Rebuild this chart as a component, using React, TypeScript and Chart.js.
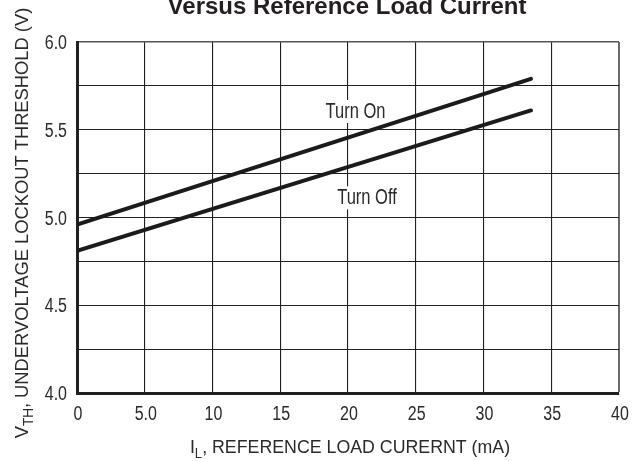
import React, { useEffect, useRef } from "react";
import { Chart, registerables } from "chart.js";

Chart.register(...registerables);

const xTickValues = [0, 5, 10, 15, 20, 25, 30, 35, 40];
const xTickLabels = ["0", "5.0", "10", "15", "20", "25", "30", "35", "40"];
const yTickValues = [4, 4.5, 5, 5.5, 6];
const yTickLabels = ["4.0", "4.5", "5.0", "5.5", "6.0"];
const turnOnX = [0, 33.5];
const turnOnY = [4.96, 5.79];
const turnOffX = [0, 33.5];
const turnOffY = [4.81, 5.61];
const seriesNames = ["Turn On", "Turn Off"];
const seriesLabelX = [20.55, 21.4];
const seriesLabelY = [5.567, 5.075];
const titleText = "Versus Reference Load Current";
const xTitleParts = [{ t: "I" }, { t: "L", sub: true }, { t: ", REFERENCE LOAD CURERNT (mA)" }];
const yTitleParts = [{ t: "V" }, { t: "TH", sub: true }, { t: ", UNDERVOLTAGE LOCKOUT THRESHOLD (V)" }];

const FAMILY = '"Liberation Sans", Arial, Helvetica, sans-serif';
const INK = "#231f20";
const TEXT = "#2a2a2a";
const COND = 0.8;

function condText(ctx: any, text: string, x: number, y: number, size: number, sx: number, align: string, bold = false) {
  ctx.save();
  ctx.font = (bold ? "bold " : "") + size + "px " + FAMILY;
  const w = ctx.measureText(text).width * sx;
  let left = x;
  if (align === "center") left = x - w / 2;
  else if (align === "right") left = x - w;
  ctx.translate(left, y);
  ctx.scale(sx, 1);
  ctx.textAlign = "left";
  ctx.textBaseline = "alphabetic";
  ctx.fillText(text, 0, 0);
  ctx.restore();
  return w;
}

function richWidth(ctx: any, parts: any[], size: number, sx: number) {
  let w = 0;
  for (const p of parts) {
    ctx.font = Math.round(p.sub ? size * 0.72 : size) + "px " + FAMILY;
    w += ctx.measureText(p.t).width * sx;
  }
  return w;
}

function drawRich(ctx: any, parts: any[], cx: number, base: number, size: number, sx: number, subDrop: number) {
  const w = richWidth(ctx, parts, size, sx);
  let x = cx - w / 2;
  for (const p of parts) {
    const s = Math.round(p.sub ? size * 0.72 : size);
    x += condText(ctx, p.t, x, p.sub ? base + subDrop : base, s, sx, "left");
  }
}

const labelPlugin = {
  id: "seriesLabels",
  beforeDatasetsDraw(chart: any) {
    const ctx = chart.ctx;
    const xs = chart.scales.x;
    const ys = chart.scales.y;
    ctx.save();
    seriesNames.forEach((name, i) => {
      const cx = xs.getPixelForValue(seriesLabelX[i]);
      const by = ys.getPixelForValue(seriesLabelY[i]);
      ctx.font = "22px " + FAMILY;
      const w = ctx.measureText(name).width * 0.75;
      ctx.fillStyle = "#ffffff";
      ctx.fillRect(cx - w / 2 - 3, by - 18, w + 6, 23);
      ctx.fillStyle = TEXT;
      condText(ctx, name, cx, by, 22, 0.75, "center");
    });
    ctx.restore();
  },
};

const textPlugin = {
  id: "texts",
  afterDraw(chart: any) {
    const ctx = chart.ctx;
    const xs = chart.scales.x;
    const ys = chart.scales.y;
    const ca = chart.chartArea;
    ctx.save();
    ctx.fillStyle = INK;
    condText(ctx, titleText, (ca.left + ca.right) / 2 - 1, 14, 24, 1, "center", true);
    ctx.fillStyle = TEXT;
    yTickValues.forEach((v, i) => {
      const py = ys.getPixelForValue(v);
      condText(ctx, yTickLabels[i], ca.left - 10, py + 7, 20, COND, "right");
    });
    xTickValues.forEach((v, i) => {
      const px = xs.getPixelForValue(v);
      condText(ctx, xTickLabels[i], px + 1, ca.bottom + 27, 20, COND, "center");
    });
    drawRich(ctx, xTitleParts, (ca.left + ca.right) / 2 + 2, 453, 19, 0.935, 5);
    ctx.save();
    ctx.translate(28, 223);
    ctx.rotate(-Math.PI / 2);
    drawRich(ctx, yTitleParts, 0, 0, 19, 0.965, 5);
    ctx.restore();
    ctx.restore();
  },
};

export default function App() {
  const ref = useRef<HTMLCanvasElement>(null);
  useEffect(() => {
    document.body.style.margin = "0";
    const chart = new Chart(ref.current!, {
      type: "scatter",
      data: {
        datasets: [
          {
            label: seriesNames[0],
            data: turnOnX.map((x, i) => ({ x, y: turnOnY[i] })),
            showLine: true,
            borderColor: "#1c1a1b",
            borderWidth: 4,
            pointRadius: 0,
            borderCapStyle: "round",
          },
          {
            label: seriesNames[1],
            data: turnOffX.map((x, i) => ({ x, y: turnOffY[i] })),
            showLine: true,
            borderColor: "#1c1a1b",
            borderWidth: 4,
            pointRadius: 0,
            borderCapStyle: "round",
          },
        ],
      },
      options: {
        animation: false,
        responsive: false,
        maintainAspectRatio: false,
        layout: { padding: { left: 0, top: 42, right: 23, bottom: 0 } },
        plugins: { legend: { display: false }, tooltip: { enabled: false }, title: { display: false } },
        scales: {
          x: {
            type: "linear",
            min: 0,
            max: 40,
            afterBuildTicks: (s: any) => {
              s.ticks = xTickValues.map((v) => ({ value: v }));
            },
            afterFit: (s: any) => {
              s.height = 68;
            },
            ticks: { display: false, autoSkip: false },
            grid: {
              color: (c: any) => (c.tick && c.tick.value === 40 ? "#6a6a6a" : INK),
              lineWidth: (c: any) => (c.tick && c.tick.value === 40 ? 2 : 1.1),
              drawTicks: false,
            },
            border: { color: INK, width: 3 },
          },
          y: {
            type: "linear",
            min: 4,
            max: 6,
            afterFit: (s: any) => {
              s.width = 77;
            },
            ticks: { display: false, stepSize: 0.25, autoSkip: false },
            grid: {
              color: (c: any) => (c.tick && c.tick.value === 6 ? "#555555" : INK),
              lineWidth: (c: any) => (c.tick && c.tick.value === 6 ? 1.6 : 1.1),
              drawTicks: false,
            },
            border: { color: INK, width: 3 },
          },
        },
      },
      plugins: [labelPlugin, textPlugin],
    } as any);
    return () => chart.destroy();
  }, []);
  return (
    <div style={{ position: "fixed", left: 0, top: 0, width: 642, height: 461, background: "#fff" }}>
      <canvas ref={ref} width={642} height={461} style={{ width: 642, height: 461, display: "block" }} />
    </div>
  );
}
